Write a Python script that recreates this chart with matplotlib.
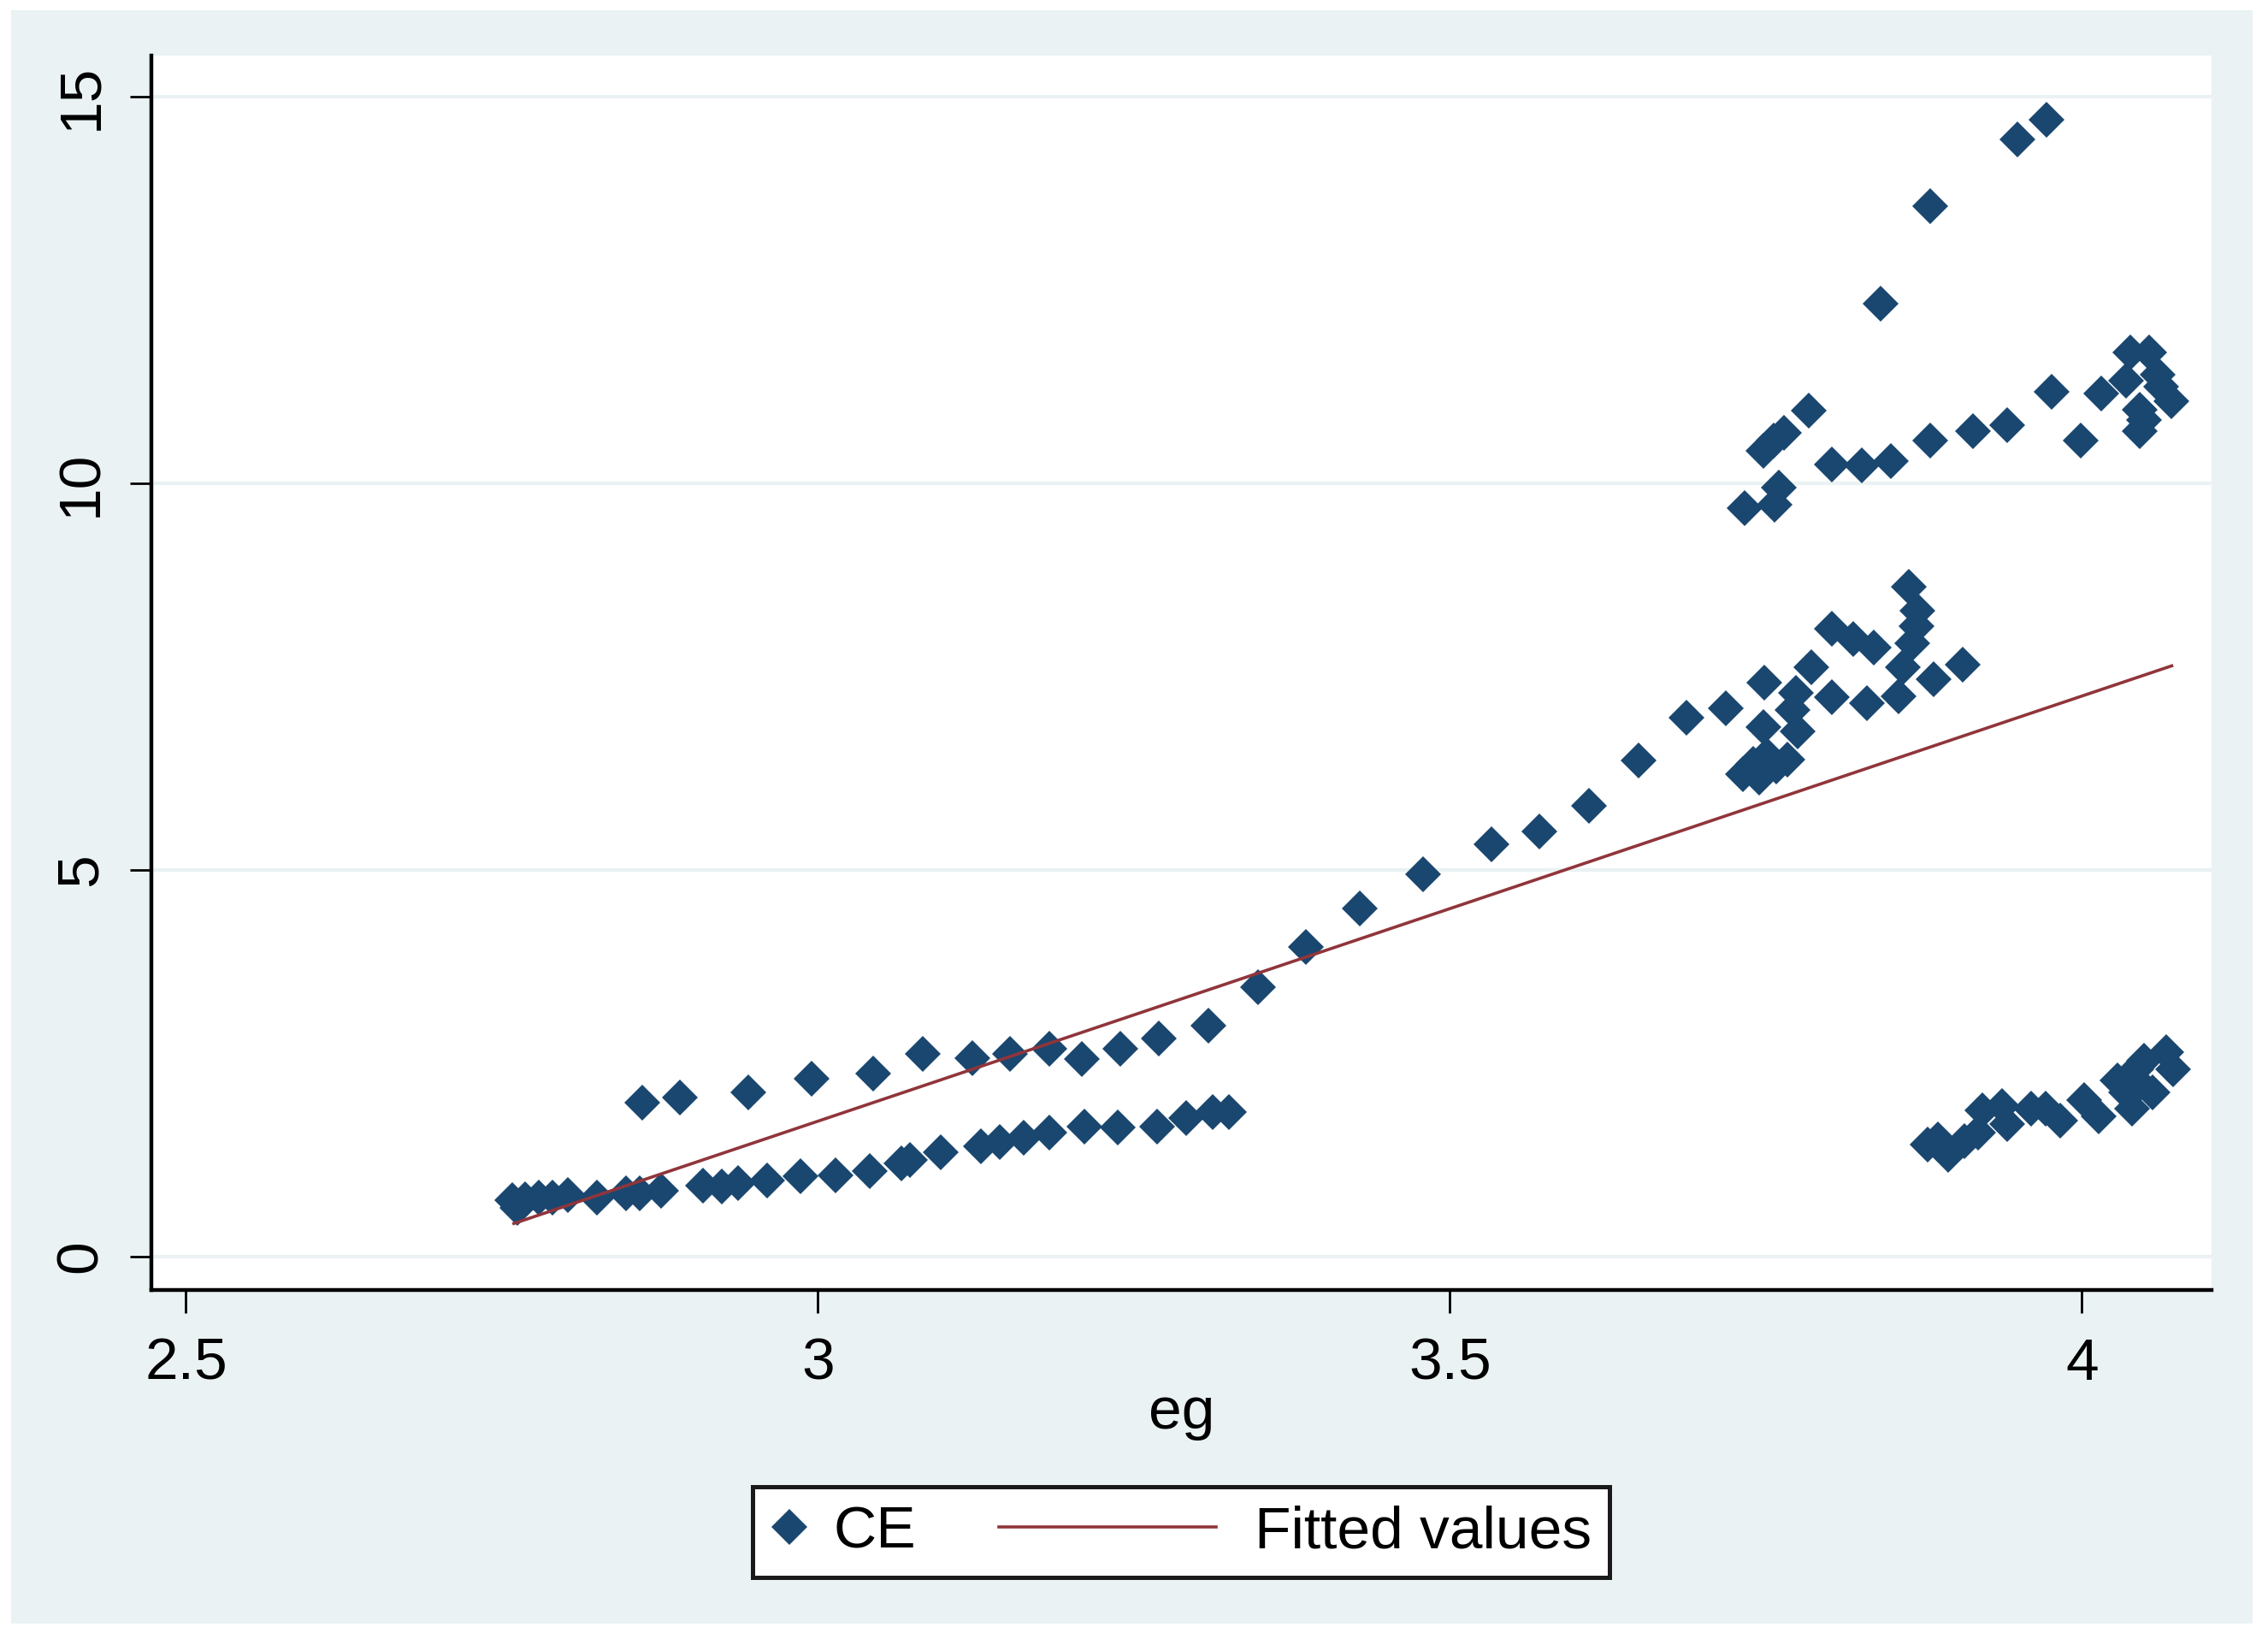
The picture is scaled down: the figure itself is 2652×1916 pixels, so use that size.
import matplotlib
matplotlib.use("Agg")
import matplotlib.pyplot as plt
from matplotlib.patches import Rectangle
from matplotlib.lines import Line2D
from matplotlib.legend_handler import HandlerLine2D

plt.rcParams["font.family"] = ["Liberation Sans", "DejaVu Sans"]

# CE against eg (grouped by visible strand)
eg = [
    # lower strand
    2.758, 2.762, 2.768, 2.779, 2.790, 2.802, 2.825, 2.848, 2.859, 2.876,
    2.909, 2.924, 2.937, 2.960, 2.986, 3.014, 3.041, 3.066, 3.073, 3.097,
    3.129, 3.144, 3.163, 3.183, 3.211, 3.237, 3.268, 3.291, 3.312, 3.325,
    # middle strand
    2.861, 2.891, 2.945, 2.995, 3.044, 3.083, 3.122, 3.152, 3.183, 3.209,
    3.239, 3.270, 3.309, 3.348, 3.386, 3.429, 3.479, 3.533, 3.571, 3.610,
    3.649, 3.687, 3.718,
    # cluster near 7-8.7
    3.749, 3.786, 3.774, 3.771, 3.802, 3.830, 3.802, 3.819, 3.835, 3.863,
    3.870, 3.869, 3.866, 3.858, 3.855, 3.883, 3.906, 3.748, 3.775, 3.751,
    3.732, 3.740, 3.745, 3.758, 3.767,
    # upper strand
    3.733, 3.757, 3.760, 3.748, 3.756, 3.764, 3.784, 3.802, 3.826, 3.849,
    3.880, 3.914, 3.941, 3.976, 3.999, 4.015, 4.035, 4.038, 4.053, 4.060,
    4.063, 4.071, 4.049, 4.046, 4.046, 3.841, 3.880, 3.949, 3.972,
    # bottom-right strand
    3.878, 3.886, 3.894, 3.907, 3.918, 3.921, 3.937, 3.941, 3.960, 3.971,
    3.983, 4.002, 4.013, 4.028, 4.040, 4.043, 4.049, 4.056, 4.067, 4.072,
    4.035, 4.046,
]
ce = [
    0.73, 0.63, 0.745, 0.76, 0.77, 0.80, 0.76, 0.82, 0.82, 0.855,
    0.92, 0.91, 0.95, 0.985, 1.04, 1.05, 1.11, 1.21, 1.25, 1.35,
    1.43, 1.48, 1.54, 1.61, 1.685, 1.67, 1.685, 1.795, 1.87, 1.87,
    1.99, 2.06, 2.12, 2.30, 2.37, 2.62, 2.57, 2.62, 2.69, 2.56,
    2.69, 2.82, 2.99, 3.49, 4.01, 4.505, 4.95, 5.33, 5.50, 5.83,
    6.42, 6.97, 7.09,
    7.42, 7.62, 7.29, 7.07, 7.23, 7.16, 8.12, 7.99, 7.88, 8.66,
    8.35, 8.15, 7.93, 7.62, 7.25, 7.47, 7.66, 6.85, 6.79, 6.48,
    6.24, 6.37, 6.20, 6.34, 6.43,
    9.68, 9.72, 9.94, 10.42, 10.55, 10.65, 10.94, 10.24, 10.23, 10.29,
    10.55, 10.67, 10.75, 11.18, 10.55, 11.16, 11.33, 11.69, 11.69, 11.41,
    11.25, 11.06, 10.82, 10.67, 10.95, 12.32, 13.58, 14.45, 14.70,
    1.45, 1.52, 1.32, 1.50, 1.61, 1.89, 1.945, 1.72, 1.91, 1.91,
    1.76, 2.02, 1.81, 2.275, 1.91, 2.42, 2.53, 2.13, 2.64, 2.42,
    2.13, 2.24,
]

# fitted values line (end points as drawn)
fit_eg = [2.7594, 4.0711]
fit_ce = [0.43, 7.64]

x_ticks = [2.5, 3, 3.5, 4]
x_labels = ["2.5", "3", "3.5", "4"]
y_ticks = [0, 5, 10, 15]
y_labels = ["0", "5", "10", "15"]

navy = "#1A476F"
maroon = "#90353B"
bluish = "#EAF2F3"

W, H = 2652, 1916
fig = plt.figure(figsize=(W / 200, H / 200), dpi=200, facecolor="white")
fig.patches.append(Rectangle((13 / W, 18 / H), 1 - 31 / W, 1 - 30 / H,
                             transform=fig.transFigure, facecolor=bluish,
                             edgecolor="none", zorder=-10))

ax = fig.add_axes([177 / W, 1 - 1508 / H, (2586 - 177) / W, (1508 - 65) / H])
ax.set_facecolor("white")

pts, = ax.plot(eg, ce, "D", color=navy, markersize=10.5, markeredgewidth=0,
               label="CE", zorder=3)
fit, = ax.plot(fit_eg, fit_ce, "-", color=maroon, linewidth=1.3,
               label="Fitted values", zorder=4)

ax.set_xlim(2.4726, 4.1026)
ax.set_ylim(-0.43, 15.53)

ax.set_xticks(x_ticks)
ax.set_xticklabels(x_labels)
ax.set_yticks(y_ticks)
ax.set_yticklabels(y_labels)

ax.tick_params(axis="x", length=9.7, width=1.0, pad=10, labelsize=25,
               direction="out", colors="black")
ax.tick_params(axis="y", length=9, width=1.0, pad=9, labelsize=25,
               direction="out", colors="black", labelrotation=90)
for lab in ax.get_yticklabels():
    lab.set_va("center")

ax.yaxis.grid(True, color=bluish, linewidth=1.5)
ax.set_axisbelow(True)

for side in ["top", "right"]:
    ax.spines[side].set_visible(False)
for side in ["left", "bottom"]:
    ax.spines[side].set_color("black")
    ax.spines[side].set_linewidth(1.6)

ax.set_xlabel("eg", fontsize=25)
ax.xaxis.label.set_va("baseline")
ax.xaxis.set_label_coords(0.5, -0.1123)


class WideLineHandler(HandlerLine2D):
    # line key reaches back into the column gap, like the Stata legend
    def create_artists(self, legend, orig_handle, xdescent, ydescent,
                       width, height, fontsize, trans):
        x1 = -xdescent + width - 0.22 * fontsize
        x0 = x1 - 3.66 * fontsize
        y = (height - ydescent) / 2
        line = Line2D([x0, x1], [y, y])
        self.update_prop(line, orig_handle, legend)
        line.set_marker("")
        line.set_transform(trans)
        return [line]


leg = fig.legend(handles=[pts, fit], labels=["CE", "Fitted values"],
                 loc="center", bbox_to_anchor=(1381 / W, 1 - 1791 / H),
                 bbox_transform=fig.transFigure, ncol=2, fontsize=25,
                 frameon=True, fancybox=False, framealpha=1,
                 handlelength=0.63, handletextpad=0.42, columnspacing=4.65,
                 borderpad=0.3, numpoints=1,
                 handler_map={fit: WideLineHandler()})
leg.get_frame().set_edgecolor("#1a1a1a")
leg.get_frame().set_linewidth(1.8)
leg.get_frame().set_facecolor("white")

fig.savefig("out.png", dpi=200)
